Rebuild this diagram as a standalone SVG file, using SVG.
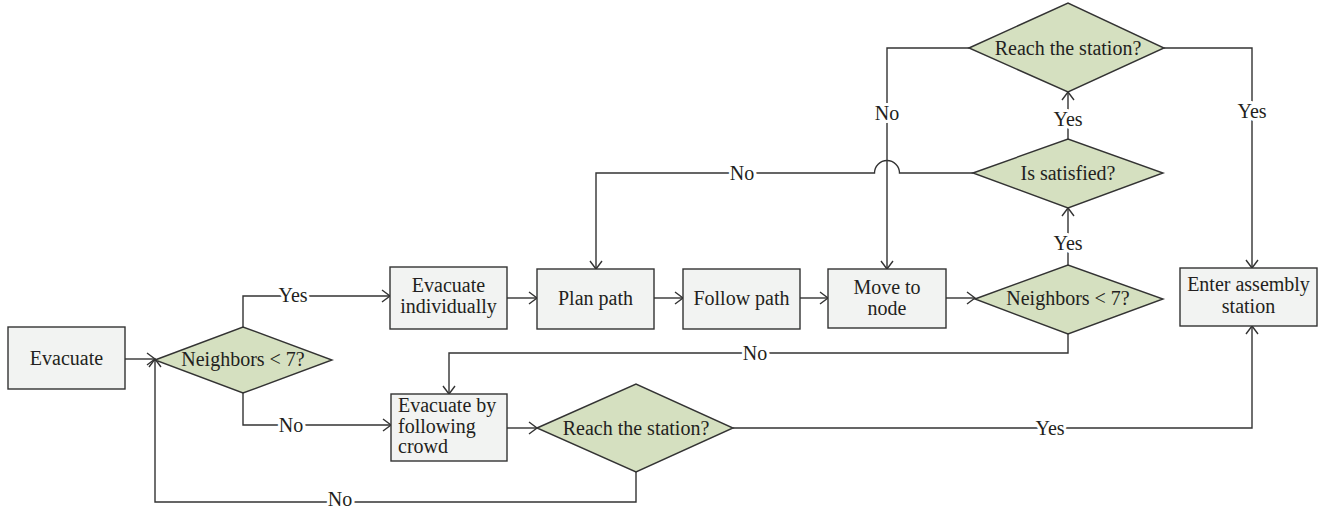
<svg xmlns="http://www.w3.org/2000/svg" width="1323" height="509" viewBox="0 0 1323 509">
<style>
.box{fill:#f2f3f2;stroke:#333;stroke-width:1.4}
.dia{fill:#d5e0c0;stroke:#333;stroke-width:1.4}
.t{font-family:"Liberation Serif","DejaVu Serif",serif;font-size:20px;fill:#231f20;text-anchor:middle}
.tl{font-family:"Liberation Serif","DejaVu Serif",serif;font-size:20px;fill:#231f20}
.c{fill:none;stroke:#333;stroke-width:1.4}
.lab{font-family:"Liberation Serif","DejaVu Serif",serif;font-size:20px;fill:#231f20;text-anchor:middle;stroke:#fff;stroke-width:6;paint-order:stroke;stroke-linejoin:round}
</style>
<defs>
<marker id="arr" markerUnits="userSpaceOnUse" markerWidth="20" markerHeight="20" viewBox="-10 -10 20 20" refX="0" refY="0" orient="auto">
<path d="M-8,-6 L0,0 L-8,6" fill="none" stroke="#333" stroke-width="1.4"/>
</marker>
</defs>
<g id="connectors">
<path class="c" d="M125,359 H155" marker-end="url(#arr)"/>
<path class="c" d="M243,327 V296 H390" marker-end="url(#arr)"/>
<path class="c" d="M243,393 V425 H391" marker-end="url(#arr)"/>
<path class="c" d="M507,298 H537" marker-end="url(#arr)"/>
<path class="c" d="M654,298 H683" marker-end="url(#arr)"/>
<path class="c" d="M800,298 H828" marker-end="url(#arr)"/>
<path class="c" d="M946,298 H975" marker-end="url(#arr)"/>
<path class="c" d="M1068,265 V208" marker-end="url(#arr)"/>
<path class="c" d="M1068,139 V92" marker-end="url(#arr)"/>
<path class="c" d="M969,48 H887 V269" marker-end="url(#arr)"/>
<path class="c" d="M1164,48 H1252 V268" marker-end="url(#arr)"/>
<path class="c" d="M973,173 H899.5 A12.5,12.5 0 0 0 874.5,173 H596 V269" marker-end="url(#arr)"/>
<path class="c" d="M1068,334 V353 H449 V394" marker-end="url(#arr)"/>
<path class="c" d="M507,428 H537" marker-end="url(#arr)"/>
<path class="c" d="M733,428 H1252 V326" marker-end="url(#arr)"/>
<path class="c" d="M636,472 V502 H155 V359" marker-end="url(#arr)"/>
<text class="lab" x="293" y="302">Yes</text>
<text class="lab" x="291" y="432">No</text>
<text class="lab" x="742" y="180">No</text>
<text class="lab" x="755" y="360">No</text>
<text class="lab" x="1050" y="435">Yes</text>
<text class="lab" x="340" y="506">No</text>
<text class="lab" x="887" y="120">No</text>
<text class="lab" x="1252" y="118">Yes</text>
<text class="lab" x="1068" y="126">Yes</text>
<text class="lab" x="1068" y="250">Yes</text>
</g>
<g id="evacuate">
<rect class="box" x="8" y="327" width="117" height="62"/>
<text class="t" x="66.5" y="365">Evacuate</text>
</g>
<g id="neighbors1">
<polygon class="dia" points="155,360 243,327 332,360 243,393"/>
<text class="t" x="243" y="366">Neighbors &lt; 7?</text>
</g>
<g id="evac-individually">
<rect class="box" x="390" y="267" width="117" height="62"/>
<text class="t" x="448.5" y="292">Evacuate</text>
<text class="t" x="448.5" y="313">individually</text>
</g>
<g id="plan-path">
<rect class="box" x="537" y="269" width="117" height="60"/>
<text class="t" x="595.5" y="305">Plan path</text>
</g>
<g id="follow-path">
<rect class="box" x="683" y="269" width="117" height="60"/>
<text class="t" x="741.5" y="305">Follow path</text>
</g>
<g id="move-to-node">
<rect class="box" x="828" y="269" width="118" height="59"/>
<text class="t" x="887" y="294">Move to</text>
<text class="t" x="887" y="315">node</text>
</g>
<g id="neighbors2">
<polygon class="dia" points="975,299 1068,265 1163,299 1068,334"/>
<text class="t" x="1068" y="305">Neighbors &lt; 7?</text>
</g>
<g id="is-satisfied">
<polygon class="dia" points="973,173 1068,139 1163,173 1068,208"/>
<text class="t" x="1068" y="180">Is satisfied?</text>
</g>
<g id="reach-top">
<polygon class="dia" points="969,48 1068,3 1164,48 1068,92"/>
<text class="t" x="1068" y="55">Reach the station?</text>
</g>
<g id="enter-assembly">
<rect class="box" x="1180" y="268" width="137" height="58"/>
<text class="t" x="1248.5" y="291">Enter assembly</text>
<text class="t" x="1248.5" y="313">station</text>
</g>
<g id="evac-crowd">
<rect class="box" x="391" y="394" width="116" height="67"/>
<text class="tl" x="398" y="412">Evacuate by</text>
<text class="tl" x="398" y="433">following</text>
<text class="tl" x="398" y="453">crowd</text>
</g>
<g id="reach-bottom">
<polygon class="dia" points="537,428 636,384 733,428 636,472"/>
<text class="t" x="636" y="435">Reach the station?</text>
</g>
</svg>
